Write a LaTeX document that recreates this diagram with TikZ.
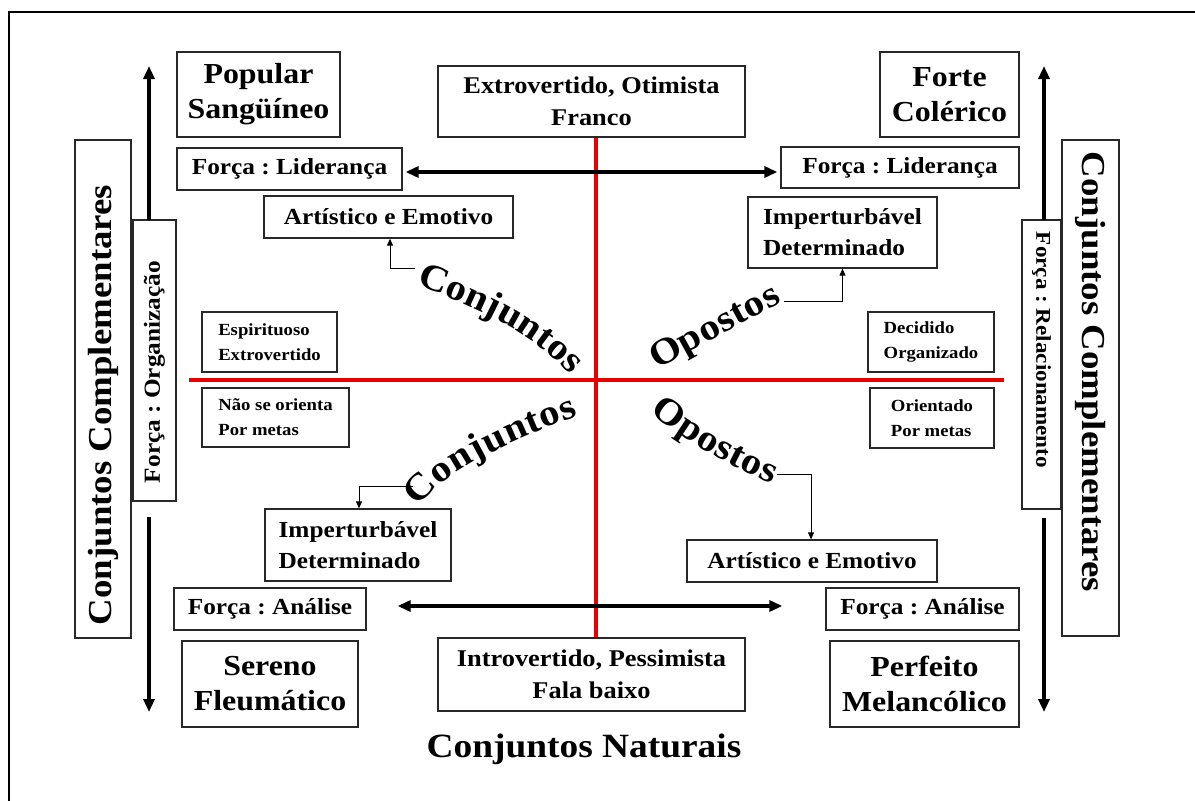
\documentclass[tikz,border=0pt]{standalone}
\usepackage{fontspec}
\setmainfont{Liberation Serif}[FakeStretch=1.1]
\usetikzlibrary{arrows.meta,decorations.text}
\frenchspacing
\definecolor{myred}{RGB}{230,0,0}
\definecolor{boxline}{RGB}{40,40,40}
\newcommand\bigf{\fontsize{29}{35}\selectfont\bfseries}
\newcommand\midf{\fontsize{23}{31}\selectfont\bfseries}
\newcommand\extf{\fontsize{24}{32}\selectfont\bfseries}
\newcommand\smallf{\fontsize{17}{25}\selectfont\bfseries}
\newcommand\hugef{\fontsize{33.5}{40}\selectfont\bfseries}
\newcommand\curvef{\fontsize{37}{40}\selectfont\bfseries}
\begin{document}
\begin{tikzpicture}[x=1pt,y=-1pt,
  box/.style={draw=boxline, line width=1.3pt, inner sep=0pt, align=center, fill=white},
  vtext/.style={inner sep=0pt},
  bigarrow/.style={line width=3.5pt, -{Triangle[length=13pt,width=11pt]}},
  bigdarrow/.style={line width=3.5pt, {Triangle[length=13pt,width=11pt]}-{Triangle[length=13pt,width=11pt]}},
  thinarrow/.style={line width=1pt, -{Triangle[length=7pt,width=6pt]}},
  redline/.style={draw=myred, line width=4pt},
  curvetext/.style={decorate, decoration={text along path, text align=fit to path, text={|\curvef|#1}}}
]
\useasboundingbox (0,0) rectangle (1195,801);
\fill[white] (0,0) rectangle (1195,801);
% frame
\draw[line width=2.5pt] (8,12) -- (1195,12);
\draw[line width=2.5pt] (9,12) -- (9,801);

% red axes
\coordinate (vt) at (596,137);
\coordinate (vb) at (596,638);
\coordinate (hl) at (189,380);
\coordinate (hr) at (1004,380);
\draw[redline] (vt) -- (vb);
\draw[redline] (hl) -- (hr);

% boxes
\node[box, minimum width=163pt, minimum height=85pt, font=\bigf] (pop) at (258.5,94.5) {Popular\\Sangüíneo};
\node[box, minimum width=307pt, minimum height=71pt, font=\extf] (ext) at (591.5,101.5) {Extrovertido, Otimista\\Franco};
\node[box, minimum width=139pt, minimum height=85pt, font=\bigf] (forte) at (949.5,94.5) {Forte\\Colérico};
\node[box, minimum width=225pt, minimum height=42pt, font=\midf] (lidL) at (289.5,169) {Força : Liderança};
\node[box, minimum width=238pt, minimum height=41pt, font=\midf] (lidR) at (900,167.5) {Força : Liderança};
\node[box, minimum width=249pt, minimum height=42pt, font=\midf] (artU) at (388.5,217) {Artístico e Emotivo};
\node[box, minimum width=189pt, minimum height=71pt, font=\midf, align=left] (impU) at (842.5,232.5) {Imperturbável\\Determinado};
\node[box, minimum width=135pt, minimum height=60pt, font=\smallf, align=left] (esp) at (269.5,342) {Espirituoso\\Extrovertido};
\node[box, minimum width=126pt, minimum height=60pt, font=\smallf, align=left] (dec) at (931,342) {Decidido\\Organizado};
\node[box, minimum width=147pt, minimum height=59pt, font=\smallf, align=left] (nao) at (275.5,417.5) {Não se orienta\\Por metas};
\node[box, minimum width=124pt, minimum height=60pt, font=\smallf, align=left] (ori) at (932,418) {Orientado\\Por metas};
\node[box, minimum width=186pt, minimum height=72pt, font=\midf, align=left] (impL) at (358,545) {Imperturbável\\Determinado};
\node[box, minimum width=250pt, minimum height=42pt, font=\midf] (artL) at (812,561) {Artístico e Emotivo};
\node[box, minimum width=192pt, minimum height=42pt, font=\midf] (anaL) at (270,609) {Força : Análise};
\node[box, minimum width=193pt, minimum height=42pt, font=\midf] (anaR) at (922.5,609) {Força : Análise};
\node[box, minimum width=176pt, minimum height=86pt, font=\bigf] (ser) at (270,684) {Sereno\\Fleumático};
\node[box, minimum width=307pt, minimum height=73pt, font=\extf] (intro) at (591.5,674.5) {Introvertido, Pessimista\\Fala baixo};
\node[box, minimum width=189pt, minimum height=86pt, font=\bigf] (per) at (924.5,684) {Perfeito\\Melancólico};

% vertical boxes
\node[box, minimum width=56pt, minimum height=498pt] (ccL) at (103,389) {};
\node[vtext, rotate=90, font=\hugef] (ccLt) at (103,405) {Conjuntos Complementares};
\node[box, minimum width=43pt, minimum height=281pt] (orgL) at (154.5,360.5) {};
\node[vtext, rotate=90, font=\midf] (orgLt) at (154.5,372) {Força : Organização};
\node[box, minimum width=57pt, minimum height=496pt] (ccR) at (1090.5,388) {};
\node[vtext, rotate=-90, font=\hugef] (ccRt) at (1090.5,372) {Conjuntos Complementares};
\node[box, minimum width=39pt, minimum height=289pt] (relR) at (1041.5,364.5) {};
\node[vtext, rotate=-90, font=\fontsize{21}{25}\selectfont\bfseries] (relRt) at (1041.5,350) {Força : Relacionamento};

% bottom title
\node[inner sep=0pt, anchor=base, font=\fontsize{34}{40}\selectfont\bfseries] (nat) at (584,757) {Conjuntos Naturais};

% big arrows
\coordinate (luS) at (149,220);
\coordinate (luE) at (149,66);
\coordinate (ldS) at (149,517);
\coordinate (ldE) at (149,712);
\coordinate (ruS) at (1044,220);
\coordinate (ruE) at (1044,66);
\coordinate (rdS) at (1044,518);
\coordinate (rdE) at (1044,712);
\draw[bigarrow] (luS) -- (luE);
\draw[bigarrow] (ldS) -- (ldE);
\draw[bigarrow] (ruS) -- (ruE);
\draw[bigarrow] (rdS) -- (rdE);
\draw[bigdarrow] ([xshift=3pt,yshift=-3pt]lidL.east) -- ([xshift=-3pt,yshift=-4.5pt]lidR.west);
\draw[bigdarrow] ([xshift=31pt,yshift=3pt]anaL.east) -- ([xshift=-43pt,yshift=3pt]anaR.west);

% curved words
\path[curvetext={Conjuntos}] (416,285) .. controls (470,305) and (530,330) .. (570,374);
\path[curvetext={Opostos}] (657,370) .. controls (700,346) and (740,324) .. (782,302);
\path[curvetext={Conjuntos}] (418,507) .. controls (445,468) and (530,433) .. (578,416);
\path[curvetext={Opostos}] (650,412) .. controls (690,445) and (730,465) .. (772,484);

% small arrows from words
\coordinate (cu) at (415,268);
\coordinate (ou) at (784,301);
\coordinate (cl) at (413,486);
\coordinate (ol) at (777,474);
\draw[thinarrow] (cu) -| ([xshift=1.5pt]artU.south);
\draw[thinarrow] (ou) -| (impU.south);
\draw[thinarrow] (cl) -| ([xshift=1pt]impL.north);
\draw[thinarrow] (ol) -| ([xshift=-1pt]artL.north);
\end{tikzpicture}
\end{document}
